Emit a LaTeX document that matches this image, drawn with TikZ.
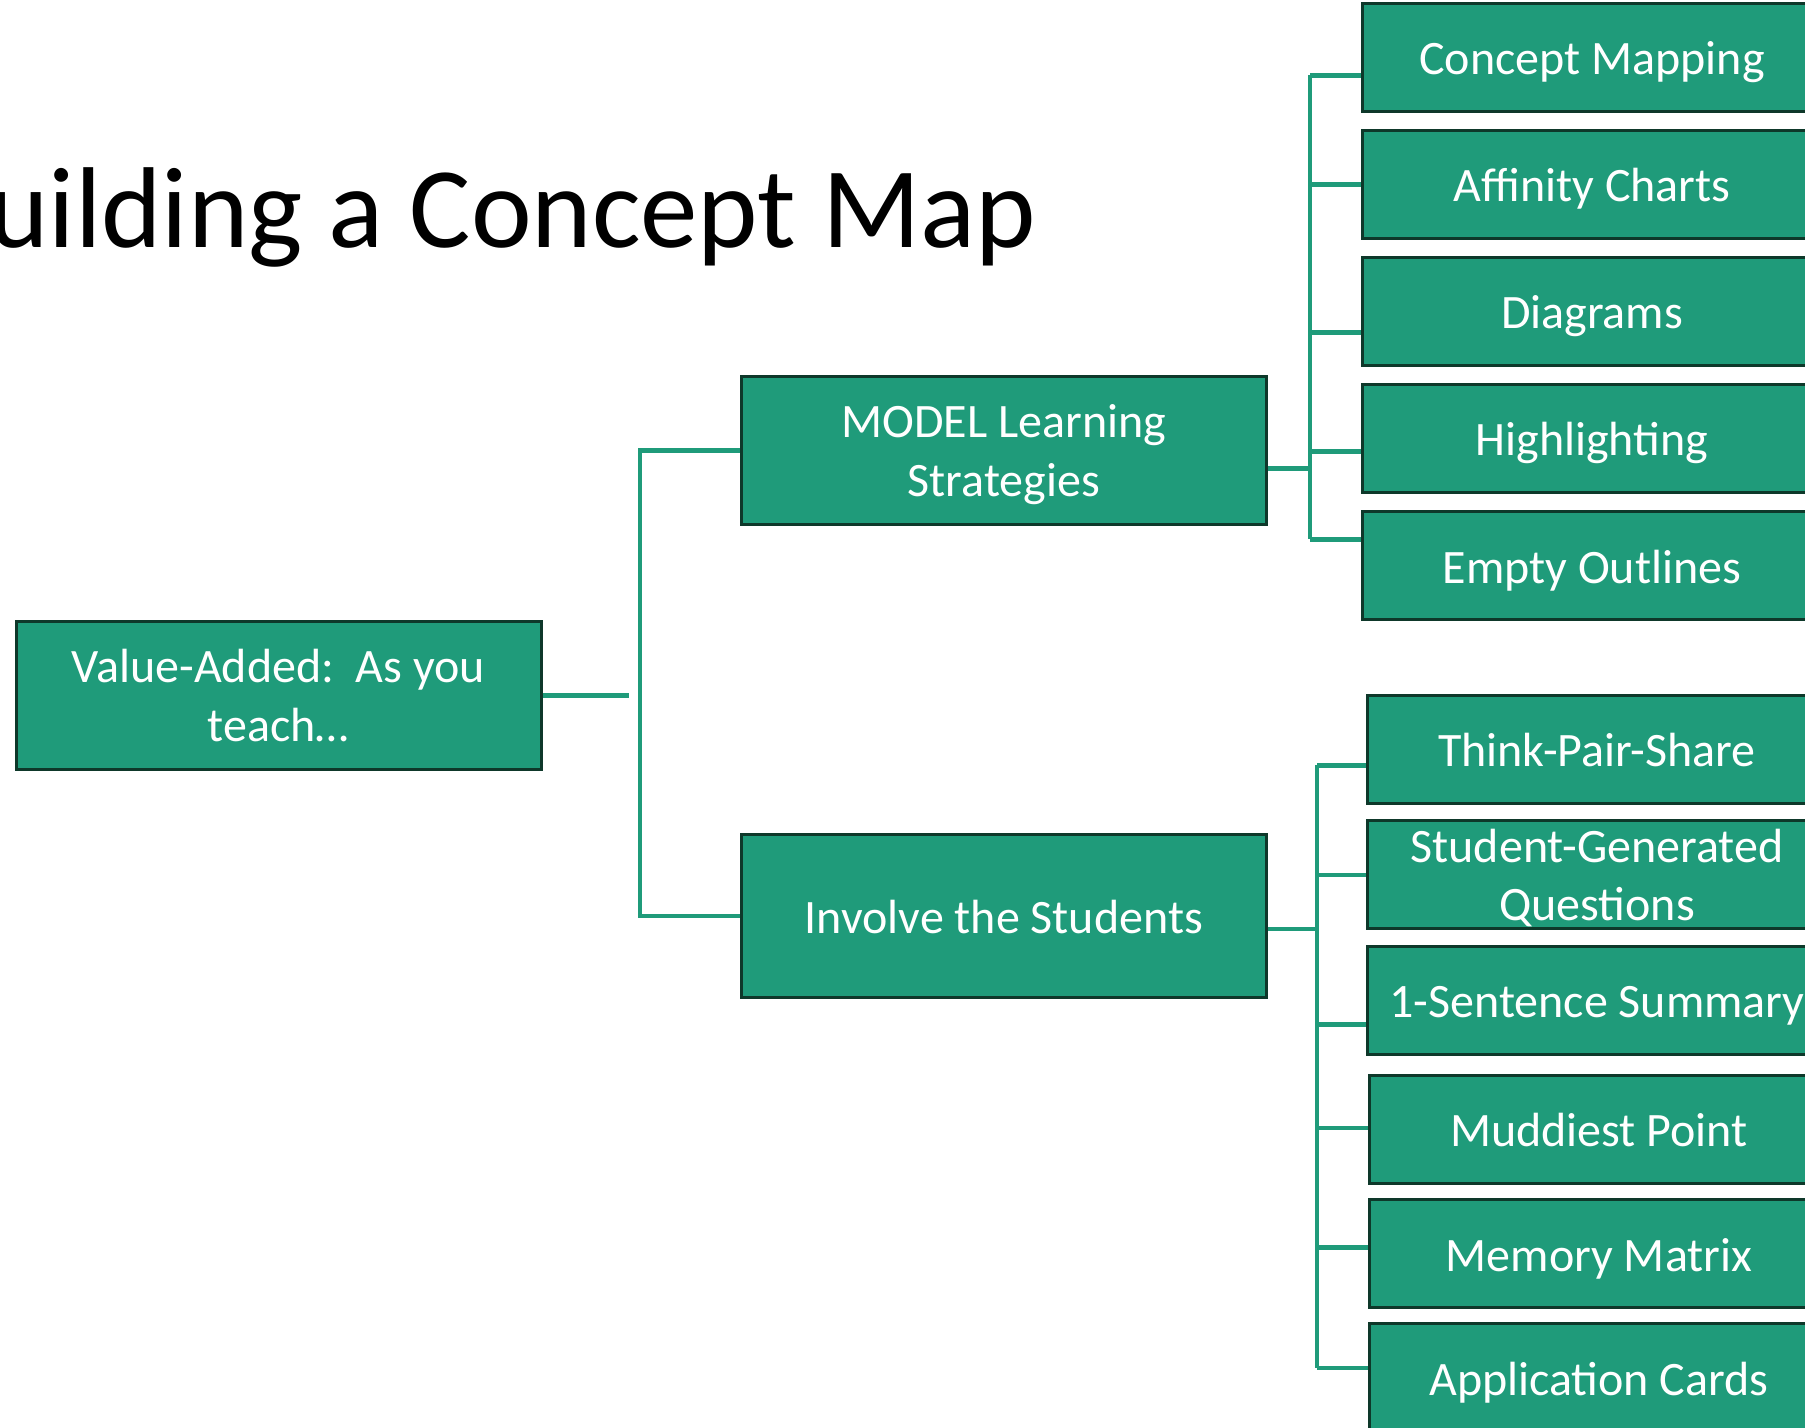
\documentclass[tikz,border=0pt]{standalone}
\usepackage{fontspec}
\setmainfont{Carlito}
\definecolor{boxfill}{RGB}{31,155,122}
\definecolor{boxline}{RGB}{14,56,42}
\definecolor{connline}{RGB}{31,155,122}
\begin{document}
\begin{tikzpicture}[x=0.5pt,y=-0.5pt,
  box/.style={draw=boxline, line width=1.5pt, fill=boxfill, text=white, inner sep=0pt,
    align=center, font=\fontsize{24}{29.3}\selectfont, text depth=0pt},
  oneline/.style={text height=17.5pt, text depth=0pt},
  leaf/.style={box, minimum width=230pt, minimum height=54pt},
  mid/.style={box, minimum width=262.5pt},
  conn/.style={draw=connline, line width=2.2pt}]
\useasboundingbox (0,0) rectangle (1805,1428);
\clip (0,0) rectangle (1805,1428);

\node[anchor=base west, inner sep=0pt, font=\fontsize{57.5}{69}\selectfont] (title) at (-12,247.5) {uilding a Concept Map};

% left and middle boxes
\node[mid, minimum height=73.7pt] (value) at (278.5,695.3) {Value-Added:~~As you\\teach…};
\node[mid, minimum height=74.3pt] (model) at (1003.9,450.7) {MODEL Learning\\Strategies};
\node[mid, oneline, minimum height=81.2pt] (involve) at (1003.9,915.8) {Involve the Students};

% top group
\node[leaf, oneline] (cm) at (1592,57.5) {Concept Mapping};
\node[leaf, oneline] (ac) at (1592,184.5) {Affinity Charts};
\node[leaf, oneline] (dg) at (1592,311.5) {Diagrams};
\node[leaf, oneline] (hl) at (1592,438.5) {Highlighting};
\node[leaf, oneline] (eo) at (1592,565.5) {Empty Outlines};

% lower group
\node[leaf, oneline] (tps) at (1597,749.3) {Think-Pair-Share};
\node[leaf] (sgq) at (1597,874.8) {Student-Generated\\Questions};
\node[leaf, oneline] (oss) at (1597,1000.3) {1-Sentence Summary};
\node[leaf, oneline] (mp) at (1599,1129.2) {Muddiest Point};
\node[leaf, oneline] (mm) at (1599,1253.6) {Memory Matrix};
\node[leaf, oneline] (app) at (1599,1377.9) {Application Cards};

% trunks
\coordinate (vEnd) at (628.6,695.3);
\coordinate (tMid) at (640,0);
\coordinate (tTop) at (1310,0);
\coordinate (tLow) at (1317,0);

% value -> mid
\draw[conn] (value.east) -- (vEnd);
\draw[conn] (model.west) -- (model.west -| tMid) -- (involve.west -| tMid) -- (involve.west);

% model -> top group
\coordinate (mOut) at ([yshift=-8.9pt]model.east);
\coordinate (cmB) at ([yshift=-9pt]cm.west);
\coordinate (acB) at (ac.west);
\coordinate (dgB) at ([yshift=-10.5pt]dg.west);
\coordinate (hlB) at ([yshift=-6.5pt]hl.west);
\coordinate (eoB) at ([yshift=13pt]eo.west);
\draw[conn] (mOut) -- (mOut -| tTop);
\draw[conn] (cmB -| tTop) -- (eoB -| tTop);
\foreach \b in {cmB,acB,dgB,hlB,eoB} \draw[conn] (\b -| tTop) -- (\b);

% involve -> lower group
\coordinate (iOut) at ([yshift=-6.5pt]involve.east);
\coordinate (tpsB) at ([yshift=-8pt]tps.west);
\coordinate (sgqB) at (sgq.west);
\coordinate (ossB) at ([yshift=-12pt]oss.west);
\coordinate (mpB) at ([yshift=0.5pt]mp.west);
\coordinate (mmB) at ([yshift=3pt]mm.west);
\coordinate (appB) at ([yshift=5pt]app.west);
\draw[conn] (iOut) -- (iOut -| tLow);
\draw[conn] (tpsB -| tLow) -- (appB -| tLow);
\foreach \b in {tpsB,sgqB,ossB,mpB,mmB,appB} \draw[conn] (\b -| tLow) -- (\b);
\end{tikzpicture}
\end{document}
